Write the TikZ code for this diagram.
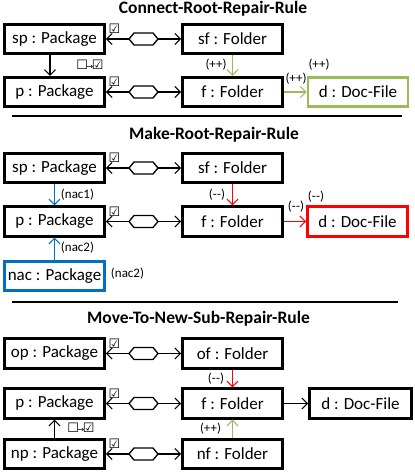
\documentclass[tikz,border=0pt]{standalone}
\usepackage{fontspec}
\setmainfont{Carlito}
\newfontfamily\symfont{DejaVu Sans}
\usetikzlibrary{arrows.meta,calc}
\definecolor{cgreen}{RGB}{155,187,89}
\definecolor{cred}{RGB}{255,0,0}
\definecolor{cblue}{RGB}{0,112,192}
\newcommand{\mm}{(-\kern0.2pt-)}
\tikzset{
  box/.style={draw, line width=2.8pt, minimum width=100pt, minimum height=29.5pt, inner sep=0pt, font=\fontsize{17}{18}\selectfont},
  title/.style={font=\fontsize{17.5}{18}\selectfont\bfseries},
  lbl/.style={font=\fontsize{13}{13}\selectfont, inner sep=0pt},
  chk/.style={font=\symfont\fontsize{13}{13}\selectfont, inner sep=0pt, anchor=north west},
  chklbl/.style={font=\symfont\fontsize{13}{13}\selectfont, inner sep=0pt},
  barb/.tip={Straight Barb[length=5.5pt,width=11pt]},
  arr/.style={-barb, line width=1.1pt},
  biarr/.style={barb-barb, line width=1.1pt},
  hexa/.pic={\draw[line width=1.3pt, fill=white] (-14.5,0) -- (-9.5,-6) -- (9.5,-6) -- (14.5,0) -- (9.5,6) -- (-9.5,6) -- cycle;},
  sep/.style={line width=1.3pt}
}
\begin{document}
\begin{tikzpicture}[x=1pt,y=-1pt]
\useasboundingbox (0,0) rectangle (415,472);
% ---------- Section 1
\node[title] (t1) at (213,9) {Connect-Root-Repair-Rule};
\node[box] (sp1) at (54.5,39) {sp : Package};
\node[box] (sf1) at (232.5,39) {sf : Folder};
\node[box] (p1) at (54.5,92) {p : Package};
\node[box] (f1) at (232.5,92) {f : Folder};
\node[box, draw=cgreen] (d1) at (358,92) {d : Doc-File};
\draw[biarr] (sp1.east) -- (sf1.west);
\path ($(sp1.east)!0.5!(sf1.west)$) pic {hexa};
\draw[biarr] (p1.east) -- (f1.west);
\path ($(p1.east)!0.5!(f1.west)$) pic {hexa};
\draw[arr] ([xshift=-4.5pt]sp1.south) -- ([xshift=-4.5pt]p1.north);
\draw[arr, cgreen] (sf1.south) -- (f1.north);
\draw[arr, cgreen] (f1.east) -- (d1.west);
\node[chk] (c1a) at ([xshift=2.5pt,yshift=-1pt]sp1.north east) {☑};
\node[chk] (c1b) at ([xshift=2.5pt,yshift=-1pt]p1.north east) {☑};
\node[chklbl] (l1a) at (90,65) {☐\kern-1.5pt{\fontsize{8}{8}\selectfont→}\kern-1.5pt☑};
\node[lbl] (l1b) at (216,65) {(++)};
\node[lbl] (l1c) at (296,79) {(++)};
\node[lbl] (l1d) at (319,65) {(++)};
\draw[sep] (12,116) -- (402,116);
% ---------- Section 2
\node[title] (t2) at (214,135) {Make-Root-Repair-Rule};
\node[box] (sp2) at (54.5,168) {sp : Package};
\node[box] (sf2) at (232.5,168) {sf : Folder};
\node[box] (p2) at (54.5,221.5) {p : Package};
\node[box] (f2) at (232.5,221.5) {f : Folder};
\node[box, draw=cred] (d2) at (357.5,221.5) {d : Doc-File};
\node[box, draw=cblue] (nac) at (54.5,276) {nac : Package};
\draw[biarr] (sp2.east) -- (sf2.west);
\path ($(sp2.east)!0.5!(sf2.west)$) pic {hexa};
\draw[biarr] (p2.east) -- (f2.west);
\path ($(p2.east)!0.5!(f2.west)$) pic {hexa};
\draw[arr, cblue] (sp2.south) -- (p2.north);
\draw[arr, cblue] (nac.north) -- (p2.south);
\draw[arr, cred] (sf2.south) -- (f2.north);
\draw[arr, cred] (f2.east) -- (d2.west);
\node[chk] (c2a) at ([xshift=2.5pt,yshift=-1pt]sp2.north east) {☑};
\node[chk] (c2b) at ([xshift=2.5pt,yshift=-1pt]p2.north east) {☑};
\node[lbl] (l2a) at (77.5,195) {(nac1)};
\node[lbl] (l2b) at (77.5,248) {(nac2)};
\node[lbl] (l2c) at (127.5,274) {(nac2)};
\node[lbl] (l2d) at (217,195) {\mm};
\node[lbl] (l2e) at (296,207) {\mm};
\node[lbl] (l2f) at (316,197) {\mm};
\draw[sep] (12,302) -- (398,302);
% ---------- Section 3
\node[title] (t3) at (198.5,319) {Move-To-New-Sub-Repair-Rule};
\node[box] (op) at (54.5,353.5) {op : Package};
\node[box] (of) at (232.5,353.5) {of : Folder};
\node[box] (p3) at (54.5,403.5) {p : Package};
\node[box] (f3) at (232.5,403.5) {f : Folder};
\node[box, minimum width=102pt] (d3) at (360.5,403.5) {d : Doc-File};
\node[box] (np) at (54.5,454) {np : Package};
\node[box] (nf) at (232.5,454) {nf : Folder};
\draw[biarr] (op.east) -- (of.west);
\path ($(op.east)!0.5!(of.west)$) pic {hexa};
\draw[biarr] (p3.east) -- (f3.west);
\path ($(p3.east)!0.5!(f3.west)$) pic {hexa};
\draw[biarr] (np.east) -- (nf.west);
\path ($(np.east)!0.5!(nf.west)$) pic {hexa};
\draw[arr] (np.north) -- (p3.south);
\draw[arr, cred] (of.south) -- (f3.north);
\draw[arr, cgreen] (nf.north) -- (f3.south);
\draw[arr] (f3.east) -- (d3.west);
\node[chk] (c3a) at ([xshift=2.5pt,yshift=-1pt]op.north east) {☑};
\node[chk] (c3b) at ([xshift=2.5pt,yshift=-1pt]p3.north east) {☑};
\node[chk] (c3c) at ([xshift=2.5pt,yshift=-1pt]np.north east) {☑};
\node[chklbl] (l3a) at (81,428) {☐\kern-1.5pt{\fontsize{8}{8}\selectfont→}\kern-1.5pt☑};
\node[lbl] (l3b) at (216,379) {\mm};
\node[lbl] (l3c) at (210.5,429) {(++)};
\end{tikzpicture}
\end{document}
